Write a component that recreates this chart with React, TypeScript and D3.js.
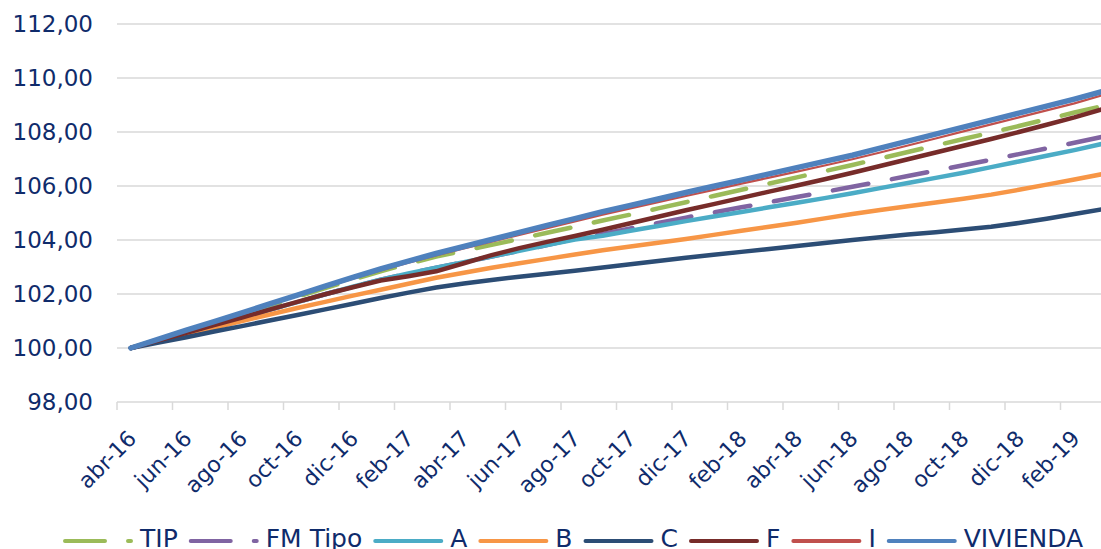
import { useRef, useEffect } from 'react';
import * as d3 from 'd3';

// monthly categories abr-16 .. mar-19
const months = [
  'abr-16', 'may-16', 'jun-16', 'jul-16', 'ago-16', 'sep-16', 'oct-16', 'nov-16', 'dic-16', 'ene-17', 'feb-17', 'mar-17',
  'abr-17', 'may-17', 'jun-17', 'jul-17', 'ago-17', 'sep-17', 'oct-17', 'nov-17', 'dic-17', 'ene-18', 'feb-18', 'mar-18',
  'abr-18', 'may-18', 'jun-18', 'jul-18', 'ago-18', 'sep-18', 'oct-18', 'nov-18', 'dic-18', 'ene-19', 'feb-19', 'mar-19',
];

const yTicks = [98, 100, 102, 104, 106, 108, 110, 112];

const tip = [
  100.0, 100.32, 100.64, 100.95, 101.26, 101.58, 101.9, 102.22, 102.53, 102.84, 103.12, 103.39,
  103.6, 103.82, 104.04, 104.27, 104.49, 104.72, 104.94, 105.17, 105.4, 105.63, 105.86, 106.09,
  106.32, 106.55, 106.78, 107.02, 107.26, 107.5, 107.74, 107.98, 108.22, 108.47, 108.72, 108.96,
];
const fmTipo = [
  100.0, 100.28, 100.56, 100.85, 101.13, 101.42, 101.7, 101.99, 102.27, 102.53, 102.76, 102.97,
  103.18, 103.39, 103.6, 103.81, 104.05, 104.22, 104.43, 104.63, 104.83, 105.02, 105.21, 105.4,
  105.59, 105.78, 105.97, 106.17, 106.37, 106.57, 106.77, 106.97, 107.18, 107.39, 107.6, 107.82,
];
const serieA = [
  100.0, 100.28, 100.56, 100.85, 101.13, 101.42, 101.7, 101.99, 102.27, 102.53, 102.76, 102.97,
  103.18, 103.39, 103.6, 103.81, 104.02, 104.16, 104.34, 104.52, 104.7, 104.87, 105.04, 105.21,
  105.38, 105.55, 105.73, 105.92, 106.11, 106.3, 106.49, 106.7, 106.91, 107.12, 107.33, 107.56,
];
const serieB = [
  100.0, 100.25, 100.5, 100.75, 101.0, 101.24, 101.48, 101.71, 101.94, 102.16, 102.38, 102.6,
  102.79, 102.97, 103.14, 103.3, 103.46, 103.62, 103.76, 103.9, 104.04, 104.19, 104.34, 104.49,
  104.64, 104.8, 104.96, 105.11, 105.25, 105.39, 105.53, 105.68, 105.86, 106.05, 106.24, 106.44,
];
const serieC = [
  100.0, 100.2, 100.4, 100.61, 100.81, 101.02, 101.22, 101.43, 101.64, 101.85, 102.05, 102.24,
  102.39, 102.52, 102.64, 102.75, 102.86, 102.98, 103.1, 103.22, 103.34, 103.45, 103.56, 103.67,
  103.78, 103.89, 104.0, 104.1, 104.2, 104.29, 104.39, 104.49, 104.63, 104.79, 104.96, 105.14,
];
const serieF = [
  100.0, 100.28, 100.56, 100.85, 101.13, 101.42, 101.71, 101.99, 102.25, 102.5, 102.66, 102.84,
  103.14, 103.44, 103.7, 103.93, 104.15, 104.38, 104.62, 104.86, 105.1, 105.33, 105.56, 105.79,
  106.02, 106.25, 106.49, 106.74, 106.99, 107.24, 107.49, 107.74, 108.0, 108.27, 108.54, 108.84,
];
const serieI = [
  100.0, 100.33, 100.65, 100.97, 101.29, 101.61, 101.93, 102.25, 102.57, 102.87, 103.16, 103.43,
  103.69, 103.94, 104.19, 104.44, 104.69, 104.94, 105.17, 105.4, 105.63, 105.86, 106.09, 106.31,
  106.53, 106.76, 106.99, 107.24, 107.5, 107.76, 108.02, 108.28, 108.54, 108.8, 109.06, 109.36,
];
const vivienda = [
  100.0, 100.33, 100.66, 100.98, 101.3, 101.63, 101.96, 102.29, 102.62, 102.93, 103.22, 103.5,
  103.76, 104.02, 104.28, 104.54, 104.79, 105.05, 105.28, 105.52, 105.76, 105.99, 106.22, 106.45,
  106.68, 106.91, 107.14, 107.4, 107.66, 107.92, 108.18, 108.44, 108.7, 108.96, 109.22, 109.5,
];

interface Series {
  label: string;
  values: number[];
  color: string;
  width: number;
  dashed: boolean;
}

// drawing order as in the source (last one on top)
const SERIES: Series[] = [
  { label: 'TIP', values: tip, color: '#9BBB59', width: 4.5, dashed: true },
  { label: 'FM Tipo', values: fmTipo, color: '#8064A2', width: 4.5, dashed: true },
  { label: 'A', values: serieA, color: '#4BACC6', width: 4.5, dashed: false },
  { label: 'B', values: serieB, color: '#F79646', width: 4.5, dashed: false },
  { label: 'C', values: serieC, color: '#2C4D75', width: 4.5, dashed: false },
  { label: 'F', values: serieF, color: '#772C2A', width: 4.5, dashed: false },
  { label: 'I', values: serieI, color: '#C0504D', width: 2.25, dashed: false },
  { label: 'VIVIENDA', values: vivienda, color: '#4F81BD', width: 5.5, dashed: false },
];

const W = 1101;
const H = 549;
const PLOT = { left: 117, top: 24, bottom: 402, right: 1116 };
const TEXT = '#0F2B6B';
const GRID = '#D9D9D9';
const FONT = '"DejaVu Sans", Verdana, sans-serif';

export default function App() {
  const svgRef = useRef<SVGSVGElement>(null);

  useEffect(() => {
    document.body.style.margin = '0';
    const svg = svgRef.current;
    if (!svg) return;
    const root = d3.select(svg);
    root.selectAll('*').remove();

    const x = d3.scalePoint<number>().domain(d3.range(months.length)).range([PLOT.left, PLOT.right]).padding(0.5);
    const step = x.step();
    const y = d3.scaleLinear().domain([98, 112]).range([PLOT.bottom, PLOT.top]);

    // Grid + y labels
    yTicks.forEach(t => {
      root.append('line').attr('x1', PLOT.left).attr('x2', W)
        .attr('y1', y(t)).attr('y2', y(t))
        .attr('stroke', GRID).attr('stroke-width', 1.5);
      root.append('text').attr('x', 93).attr('y', y(t)).attr('dy', '0.36em')
        .attr('text-anchor', 'end').attr('fill', TEXT)
        .attr('font-family', FONT).attr('font-size', '23px')
        .text(d3.format('.2f')(t).replace('.', ','));
    });

    // X ticks every two months, between categories
    for (let i = 0; i <= months.length; i += 2) {
      const tx = PLOT.left + i * step;
      if (tx > W) break;
      root.append('line').attr('x1', tx).attr('x2', tx).attr('y1', PLOT.bottom).attr('y2', PLOT.bottom + 8)
        .attr('stroke', GRID).attr('stroke-width', 1.5);
    }

    months.forEach((m, i) => {
      if (i % 2 !== 0) return;
      const cx = x(i)! - 4;
      const cy = PLOT.bottom + 27;
      root.append('text').attr('transform', `translate(${cx},${cy}) rotate(-45)`)
        .attr('text-anchor', 'end').attr('dy', '0.7em')
        .attr('fill', TEXT).attr('font-family', FONT).attr('font-size', '22px')
        .text(m);
    });

    // Lines
    const line = d3.line<number>().x((_, i) => x(i)!).y(d => y(d));
    SERIES.forEach(s => {
      root.append('path').datum(s.values).attr('d', line)
        .attr('fill', 'none').attr('stroke', s.color).attr('stroke-width', s.width)
        .attr('stroke-linejoin', 'round').attr('stroke-linecap', 'round')
        .attr('stroke-dasharray', s.dashed ? '36,24' : null);
    });

    // Legend
    const legendY = 541;
    let lx = 63;
    SERIES.forEach(s => {
      const g = root.append('g');
      g.append('line').attr('x1', lx + 2).attr('x2', lx + 68).attr('y1', legendY).attr('y2', legendY)
        .attr('stroke', s.color).attr('stroke-width', 4).attr('stroke-linecap', 'round')
        .attr('stroke-dasharray', s.dashed ? '40,23' : null);
      const txt = g.append('text').attr('x', lx + 77).attr('y', 547)
        .attr('fill', TEXT).attr('font-family', FONT).attr('font-size', '25px').text(s.label);
      const tw = (txt.node() as SVGTextElement).getComputedTextLength();
      lx = lx + 77 + tw + 11;
    });
  }, []);

  return (
    <svg ref={svgRef} width={W} height={H}
      style={{ position: 'absolute', left: 0, top: 0, display: 'block', background: '#fff', overflow: 'hidden' }} />
  );
}
